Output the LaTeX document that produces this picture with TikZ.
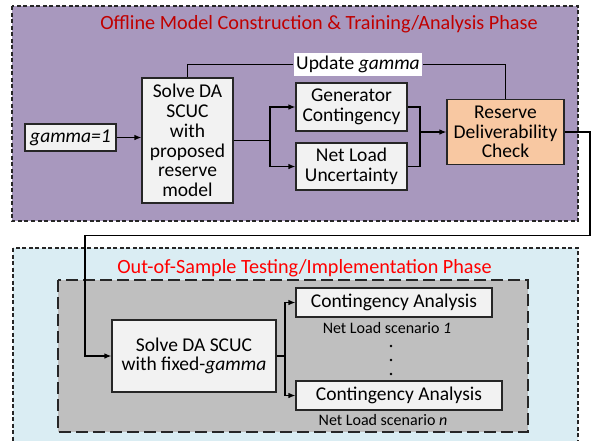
\documentclass[tikz,border=0pt]{standalone}
\usepackage{fontspec}
\setmainfont{Carlito}
\usetikzlibrary{arrows.meta,calc}
\definecolor{purplebg}{HTML}{A898BE}
\definecolor{bluebg}{HTML}{DAEDF3}
\definecolor{graybg}{HTML}{BFBFBF}
\definecolor{boxfill}{HTML}{F2F2F2}
\definecolor{orangebox}{HTML}{F8C8A2}
\definecolor{darkred}{HTML}{C00000}
\definecolor{brightred}{HTML}{FF0000}
\begin{document}
\begin{tikzpicture}[x=1pt,y=-1pt,
  box/.style={draw=black!85, line width=1.1pt, fill=boxfill, inner sep=0pt, align=center,
    font=\fontsize{19.5}{19.7}\selectfont},
  arr/.style={line width=1.2pt, -{Latex[length=7pt,width=5.5pt]}},
  conn/.style={line width=1.2pt},
  phase/.style={draw=black!85, line width=1.1pt, dash pattern=on 4pt off 2.5pt},
  title/.style={inner sep=0pt, font=\fontsize{20.2}{21}\selectfont},
  small/.style={inner sep=0pt, font=\fontsize{16}{16.5}\selectfont}
]
\useasboundingbox (0,0) rectangle (592,440);
% phase frames
\draw[phase, fill=purplebg] (12,6) rectangle (578,221);
\draw[phase, fill=bluebg] (13,248) rectangle (578,450);
\draw[draw=black!85, line width=1.1pt, fill=graybg, dash pattern=on 12pt off 5pt] (58,280) rectangle (528,432);
% titles
\node[title, text=darkred] (t1) at (319,24) {Offline Model Construction \& Training/Analysis Phase};
\node[title, text=brightred] (t2) at (304.5,268) {Out-of-Sample Testing/Implementation Phase};
% top nodes
\node[box, minimum width=91pt, minimum height=27pt] (gamma1) at (70.5,137.5) {\textit{gamma=1}};
\node[box, minimum width=91pt, minimum height=125pt] (solve1) at (187.5,140.5) {Solve DA\\SCUC\\with\\proposed\\reserve\\model};
\node[box, minimum width=111pt, minimum height=48pt] (gc) at (351.5,107) {Generator\\Contingency};
\node[box, minimum width=111pt, minimum height=47pt] (nlu) at (351.5,166.5) {Net Load\\Uncertainty};
\node[box, fill=orangebox, minimum width=117pt, minimum height=65pt] (rdc) at (505.5,132) {Reserve\\Deliverability\\Check};
\node[box, draw=none, fill=white, minimum width=128pt, minimum height=23pt] (upd) at (358,64.5) {Update \textit{gamma}};
% bottom nodes
\node[box, minimum width=164pt, minimum height=72pt] (solve2) at (194,356) {Solve DA SCUC\\with fixed-\textit{gamma}};
\node[box, minimum width=196pt, minimum height=29pt] (ca1) at (394,302.5) {Contingency Analysis};
\node[box, minimum width=206pt, minimum height=29pt] (ca2) at (399,395.5) {Contingency Analysis};
\node[small] (nl1) at (387,328) {Net Load scenario \textit{1}};
\node[small] (nln) at (383,420) {Net Load scenario \textit{n}};
\foreach \yy in {346,360,374} \fill (391,\yy) circle (1.4pt);
% coordinates
\coordinate (j1) at (270,140.5);
\coordinate (j2) at (420,132);
\coordinate (j3) at (285,356);
\coordinate (fb1) at (590,235.5);
\coordinate (fb2) at (85,235.5);
% connectors
\draw[arr] (gamma1.east) -- (gamma1.east -| solve1.west);
\draw[conn] (solve1.east |- j1) -- (j1);
\draw[arr] (j1) |- (gc.west);
\draw[arr] (j1) |- (nlu.west);
\draw[conn] (gc.east) -| (j2);
\draw[conn] (nlu.east) -| (j2);
\draw[arr] (j2) -- (rdc.west);
\draw[conn] (rdc.north) |- (upd.east);
\draw[conn] (upd.west) -| (solve1.north);
\draw[arr] (rdc.east) -| (fb1) -- (fb2) |- (solve2.west);
\draw[conn] (solve2.east) -- (j3);
\draw[arr] (j3) |- (ca1.west);
\draw[arr] (j3) |- (ca2.west);
\end{tikzpicture}
\end{document}
